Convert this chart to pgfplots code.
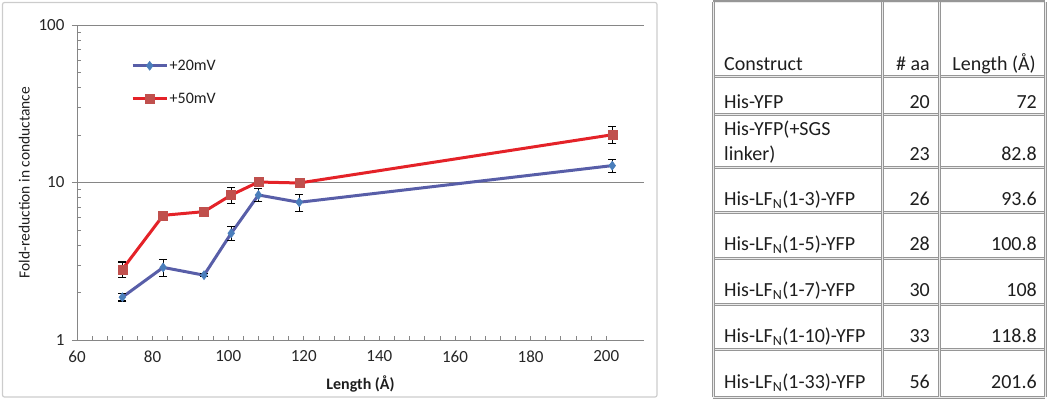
\documentclass[border=0pt]{standalone}
\usepackage{fontspec}
\setmainfont{Carlito}
\usepackage{pgfplots}
\pgfplotsset{compat=1.18}
\definecolor{bline}{RGB}{88,94,168}
\definecolor{bmark}{RGB}{74,126,187}
\definecolor{rline}{RGB}{228,34,40}
\definecolor{rmark}{RGB}{192,80,77}
\definecolor{axgray}{RGB}{134,134,134}
\definecolor{tblgray}{RGB}{150,150,150}
\definecolor{txt}{RGB}{30,30,30}

\begin{document}
\begin{tikzpicture}
\path[use as bounding box] (0pt,0pt) rectangle (1050pt,400pt);
\draw[gray!40, line width=1.2pt, rounded corners=2pt] (2.5pt,3pt) rectangle (657pt,397.5pt);
\begin{axis}[
  at={(77pt,60pt)}, anchor=south west,
  scale only axis, width=567pt, height=315pt,
  ymode=log, ymin=1, ymax=100, xmin=60, xmax=210,
  xtick={60,80,...,200}, minor x tick num=4,
  ytick={1,10,100}, yticklabels={1,10,100},
  minor ytick={2,3,4,5,6,7,8,9,20,30,40,50,60,70,80,90},
  extra y ticks={1,10,100}, extra y tick labels={},
  extra y tick style={tick align=outside, major tick length=5pt, ymajorgrids=false},
  axis x line*=bottom, axis y line*=left,
  axis line style={axgray, line width=0.8pt},
  tick style={axgray, line width=0.7pt},
  tick align=inside, major tick length=4pt, minor tick length=4pt,
  ymajorgrids, major grid style={axgray, line width=0.8pt},
  /pgf/number format/assume math mode=true,
  tick label style={font=\fontsize{17}{17}\selectfont, text=black!85},
  xticklabel style={yshift=-7pt},
  yticklabel style={xshift=-9pt},
  xlabel={\textbf{Length (Å)}},
  ylabel={Fold-reduction in conductance},
  every axis x label/.style={at={(axis description cs:0.5,-0.14)}, anchor=center,
    font=\fontsize{16}{16}\selectfont, text=txt},
  every axis y label/.style={at={(axis description cs:-0.093,0.5)}, rotate=90, anchor=center,
    font=\fontsize{15.5}{15.5}\selectfont, text=txt},
  clip=false,
  legend style={at={(axis description cs:0.0952,0.89)}, anchor=north west,
    draw=none, fill=none, inner sep=0pt, row sep=21pt,
    font=\fontsize{16}{16}\selectfont, text=txt,
    nodes={inner xsep=1.5pt, inner ysep=0pt}},
  legend cell align=left,
  legend image code/.code={\draw[mark repeat=2,mark phase=2,#1] plot coordinates {(0pt,0pt) (17pt,0pt) (34pt,0pt)};},
  error bars/error bar style={black, line width=1.1pt},
  error bars/error mark options={rotate=90, mark size=4pt, black, line width=1.1pt},
]
\addplot[bline, line width=3pt, mark=diamond*, mark size=4.5pt,
  mark options={fill=bmark, draw=bmark, line width=0.5pt},
  error bars/.cd, y dir=both, y explicit]
  coordinates {
  (72,1.87) +- (0,0.10)
  (82.8,2.89) +- (0,0.35)
  (93.6,2.58) +- (0,0.05)
  (100.8,4.76) +- (0,0.48)
  (108,8.33) +- (0,0.80)
  (118.8,7.49) +- (0,0.95)
  (201.6,12.8) +- (0,1.2)
  };
\addlegendentry{+20mV}
\addplot[rline, line width=3pt, mark=square*, mark size=4.5pt,
  mark options={fill=rmark, draw=rmark, line width=0.5pt},
  error bars/.cd, y dir=both, y explicit]
  coordinates {
  (72,2.81) +- (0,0.32)
  (82.8,6.19) +- (0,0.25)
  (93.6,6.53) +- (0,0.10)
  (100.8,8.33) +- (0,1.0)
  (108,10.07) +- (0,0.6)
  (118.8,9.93) +- (0,0.4)
  (201.6,20.1) +- (0,2.5)
  };
\addlegendentry{+50mV}
\end{axis}
% table
\begin{scope}
\foreach \yy in {398,324,286,233,188,142,96,51,3} {
  \draw[tblgray, line width=3pt] (713pt,\yy pt) -- (1045pt,\yy pt);
  \draw[white!80!tblgray, line width=0.8pt] (713pt,\yy pt) -- (1045pt,\yy pt);
}
\foreach \xx in {713,882,939,1045} {
  \draw[tblgray, line width=3pt] (\xx pt,3pt) -- (\xx pt,398pt);
  \draw[white!80!tblgray, line width=0.8pt] (\xx pt,3pt) -- (\xx pt,398pt);
}
\tikzset{tt/.style={inner sep=0pt, font=\fontsize{20}{20}\selectfont, text=txt}}
\node[tt, anchor=base west] at (724pt,330pt) {Construct};
\node[tt, anchor=base east] at (930pt,330pt) {\# aa};
\node[tt, anchor=base east] at (1036pt,330pt) {Length (Å)};
\node[tt, anchor=base west] at (724pt,292pt) {His-YFP};
\node[tt, anchor=base east] at (930pt,292pt) {20};
\node[tt, anchor=base east] at (1037pt,292pt) {72};
\node[tt, anchor=base west] at (724pt,265pt) {His-YFP(+SGS};
\node[tt, anchor=base west] at (724pt,240pt) {linker)};
\node[tt, anchor=base east] at (930pt,240pt) {23};
\node[tt, anchor=base east] at (1037pt,240pt) {82.8};
\node[tt, anchor=base west] at (724pt,195pt) {His-LF\textsubscript{N}(1-3)-YFP};
\node[tt, anchor=base east] at (930pt,195pt) {26};
\node[tt, anchor=base east] at (1037pt,195pt) {93.6};
\node[tt, anchor=base west] at (724pt,149.3pt) {His-LF\textsubscript{N}(1-5)-YFP};
\node[tt, anchor=base east] at (930pt,149.3pt) {28};
\node[tt, anchor=base east] at (1037pt,149.3pt) {100.8};
\node[tt, anchor=base west] at (724pt,103.3pt) {His-LF\textsubscript{N}(1-7)-YFP};
\node[tt, anchor=base east] at (930pt,103.3pt) {30};
\node[tt, anchor=base east] at (1037pt,103.3pt) {108};
\node[tt, anchor=base west] at (724pt,57.7pt) {His-LF\textsubscript{N}(1-10)-YFP};
\node[tt, anchor=base east] at (930pt,57.7pt) {33};
\node[tt, anchor=base east] at (1037pt,57.7pt) {118.8};
\node[tt, anchor=base west] at (724pt,11.7pt) {His-LF\textsubscript{N}(1-33)-YFP};
\node[tt, anchor=base east] at (930pt,11.7pt) {56};
\node[tt, anchor=base east] at (1037pt,11.7pt) {201.6};
\end{scope}
\end{tikzpicture}
\end{document}
